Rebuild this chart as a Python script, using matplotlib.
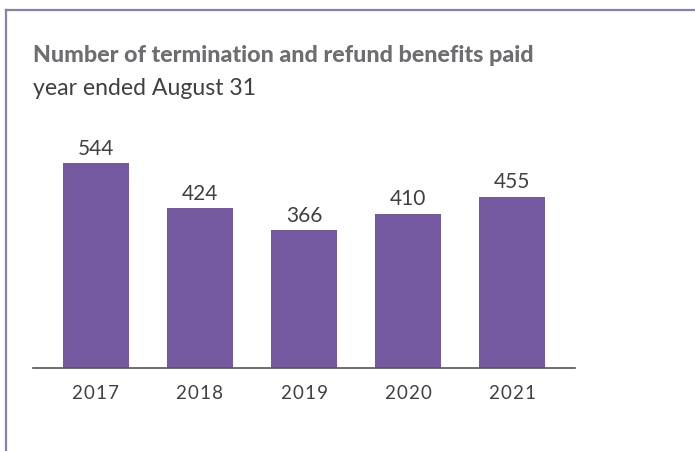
import matplotlib
matplotlib.use("Agg")
import matplotlib.pyplot as plt
from matplotlib.lines import Line2D

years = ["2017", "2018", "2019", "2020", "2021"]
benefits = [544, 424, 366, 410, 455]

title = "Number of termination and refund benefits paid"
subtitle = "year ended August 31"

BAR = "#7459a0"
BORDER = "#8a7fa6"
TITLE_C = "#6d6e71"
TEXT_C = "#404040"

W, H = 695, 451
fig = plt.figure(figsize=(W / 100, H / 100), dpi=100)
fig.patch.set_facecolor("white")

ax = fig.add_axes([33 / W, 83 / H, 542 / W, 226 / H])
x = list(range(len(years)))
ax.bar(x, benefits, width=0.633, color=BAR)
ax.set_xlim(-0.6, 4.6)
ax.set_ylim(0, 600)
ax.set_yticks([])
ax.set_xticks(x)
ax.set_xticklabels(["\u200a".join(list(y)) for y in years])
for lab in ax.get_xticklabels():
    lab.set_family("Lato")
    lab.set_fontsize(13.5)
    lab.set_color(TEXT_C)
ax.tick_params(axis="x", length=0, pad=12)
for s in ["top", "right", "left"]:
    ax.spines[s].set_visible(False)
ax.spines["bottom"].set_color("#555555")
ax.spines["bottom"].set_linewidth(1.2)

for xi, v in zip(x, benefits):
    ax.annotate(str(v), (xi, v), xytext=(0, 3), textcoords="offset points",
                ha="center", va="bottom", fontsize=15, family="Lato",
                color=TEXT_C)

# border lines (top and left)
fig.add_artist(Line2D([6 / W, 1], [1 - 9.5 / H, 1 - 9.5 / H], color=BORDER,
                      lw=1.6, transform=fig.transFigure))
fig.add_artist(Line2D([6 / W, 6 / W], [0, 1 - 9.5 / H], color=BORDER,
                      lw=1.6, transform=fig.transFigure))

t1 = fig.text(33 / W, 1 - 56 / H, title, fontsize=16, fontweight=900,
              family="Lato", color=TITLE_C, va="center", ha="left")
t2 = fig.text(33 / W, 1 - 89 / H, subtitle, fontsize=16, family="Lato",
              color=TEXT_C, va="center", ha="left")

# fit text widths to the reference layout
fig.canvas.draw()
r = fig.canvas.get_renderer()
for t, target in [(t1, 499), (t2, 224)]:
    w = t.get_window_extent(r).width
    t.set_fontsize(t.get_fontsize() * target / w)

fig.savefig("out.png", dpi=100, facecolor="white")
